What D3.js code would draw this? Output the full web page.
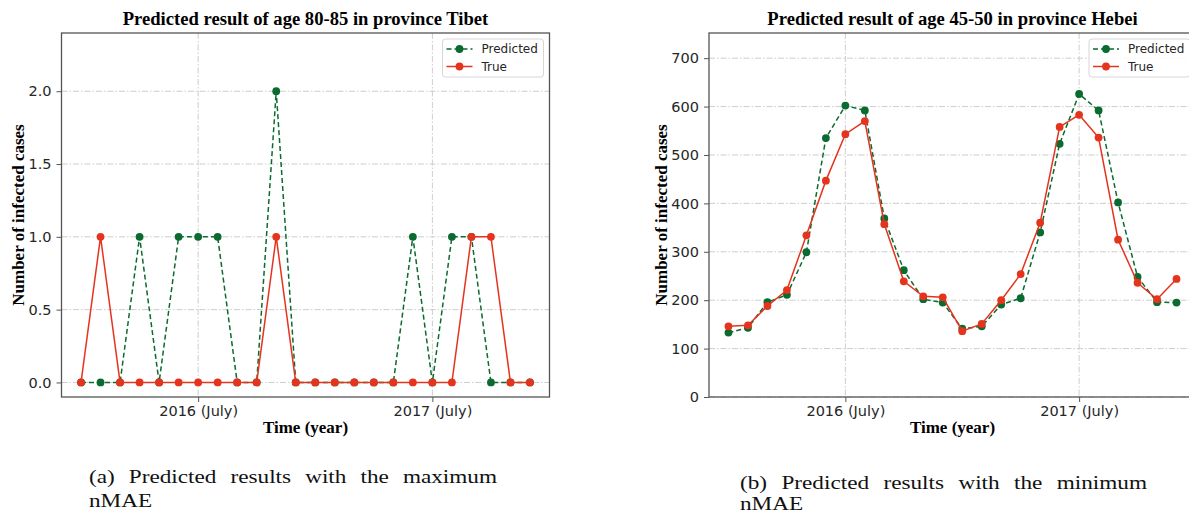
<!DOCTYPE html>
<html>
<head>
<meta charset="utf-8">
<script src="https://cdn.jsdelivr.net/npm/d3@7"></script>
<style>
  body { margin: 0; background: #fff; }
  svg { display: block; }
</style>
</head>
<body>
<svg id="canvas" width="1189" height="513"></svg>
<script>
//two panels of monthly predicted vs true infected cases

var canvas = d3.select('#canvas');

//months shown on the x axis (index based, Jan 2016 .. Dec 2017)
var months = ['2016-01', '2016-02', '2016-03', '2016-04', '2016-05', '2016-06',
  '2016-07', '2016-08', '2016-09', '2016-10', '2016-11', '2016-12',
  '2017-01', '2017-02', '2017-03', '2017-04', '2017-05', '2017-06',
  '2017-07', '2017-08', '2017-09', '2017-10', '2017-11', '2017-12'];
var xTickMonths = ['2016-07', '2017-07'];
var xTickLabels = ['2016 (July)', '2017 (July)'];

//panel (a): Tibet, age 80-85
var tibetPredicted = [0, 0, 0, 1, 0, 1, 1, 1, 0, 0, 2, 0, 0, 0, 0, 0, 0, 1, 0, 1, 1, 0, 0, 0];
var tibetTrue = [0, 1, 0, 0, 0, 0, 0, 0, 0, 0, 1, 0, 0, 0, 0, 0, 0, 0, 0, 0, 1, 1, 0, 0];
var tibetYTicks = [0, 0.5, 1, 1.5, 2];

//panel (b): Hebei, age 45-50
var hebeiPredicted = [133, 143, 196, 211, 299, 535, 602, 592, 369, 262, 202, 195,
  141, 146, 191, 204, 340, 523, 626, 592, 402, 248, 196, 195];
var hebeiTrue = [146, 148, 188, 221, 334, 447, 543, 570, 357, 239, 208, 206,
  136, 151, 200, 254, 360, 558, 583, 536, 325, 236, 202, 244];
var hebeiYTicks = [0, 100, 200, 300, 400, 500, 600, 700];

var seriesNames = ['Predicted', 'True'];

var green = '#0a6a2f';
var red = '#e5341d';
var gridColor = '#cdcdcd';
var tickColor = '#262626';
var serif = '"Liberation Serif", "Times New Roman", serif';

function drawPanel(p) {
  var g = canvas.append('g');

  var xScale = d3.scaleLinear()
    .domain([-1, months.length])
    .range([p.left, p.right]);
  var yScale = d3.scaleLinear()
    .domain(p.yDomain)
    .range([p.bottom, p.top]);

  //clip so that marks stay inside the axes
  var clipId = 'clip-' + p.id;
  g.append('clipPath').attr('id', clipId)
    .append('rect')
    .attr('x', p.left).attr('y', p.top)
    .attr('width', p.right - p.left).attr('height', p.bottom - p.top);

  //grid lines (dash-dot like matplotlib '-.')
  g.selectAll('.hgrid')
    .data(p.yTicks)
    .enter().append('line')
    .attr('x1', p.left).attr('x2', p.right)
    .attr('y1', function(d) { return yScale(d); })
    .attr('y2', function(d) { return yScale(d); })
    .style('stroke', gridColor)
    .style('stroke-width', 1)
    .style('stroke-dasharray', '6,2,1.5,2');

  g.selectAll('.vgrid')
    .data(xTickMonths)
    .enter().append('line')
    .attr('x1', function(d) { return xScale(months.indexOf(d)); })
    .attr('x2', function(d) { return xScale(months.indexOf(d)); })
    .attr('y1', p.top).attr('y2', p.bottom)
    .style('stroke', gridColor)
    .style('stroke-width', 1)
    .style('stroke-dasharray', '6,2,1.5,2');

  //axes
  var xAxis = d3.axisBottom(xScale)
    .tickValues(xTickMonths.map(function(d) { return months.indexOf(d); }))
    .tickFormat(function(d, i) { return xTickLabels[i]; })
    .tickSize(5)
    .tickPadding(4)
    .tickSizeOuter(0);
  var xg = g.append('g')
    .attr('transform', 'translate(0,' + p.bottom + ')')
    .call(xAxis);
  xg.select('.domain').remove();

  var yAxis = d3.axisLeft(yScale)
    .tickValues(p.yTicks)
    .tickFormat(d3.format(p.yFormat))
    .tickSize(5)
    .tickPadding(5)
    .tickSizeOuter(0);
  var yg = g.append('g')
    .attr('transform', 'translate(' + p.left + ',0)')
    .call(yAxis);
  yg.select('.domain').remove();

  [xg, yg].forEach(function(a) {
    a.selectAll('text')
      .style('font-family', '"DejaVu Sans", sans-serif')
      .style('font-size', '14.5px')
      .style('fill', tickColor);
    a.selectAll('line').style('stroke', '#555').style('stroke-width', 1);
  });
  xg.selectAll('text').attr('dy', '0.72em');

  //axes frame
  g.append('rect')
    .attr('x', p.left).attr('y', p.top)
    .attr('width', p.right - p.left).attr('height', p.bottom - p.top)
    .style('fill', 'none')
    .style('stroke', '#555')
    .style('stroke-width', 1.3);

  //the two series, predicted first so true sits on top
  var series = [
    { name: seriesNames[0], values: p.predicted, color: green, dash: '5,3' },
    { name: seriesNames[1], values: p.truth, color: red, dash: null }
  ];

  var line = d3.line()
    .x(function(d, i) { return xScale(i); })
    .y(function(d) { return yScale(d); });

  var plot = g.append('g').attr('clip-path', 'url(#' + clipId + ')');

  series.forEach(function(s) {
    plot.append('path')
      .datum(s.values)
      .attr('d', line)
      .style('fill', 'none')
      .style('stroke', s.color)
      .style('stroke-width', 1.5)
      .style('stroke-dasharray', s.dash);

    plot.selectAll('.dot-' + s.name)
      .data(s.values)
      .enter().append('circle')
      .attr('cx', function(d, i) { return xScale(i); })
      .attr('cy', function(d) { return yScale(d); })
      .attr('r', 3.9)
      .style('fill', s.color);
  });

  //title
  g.append('text')
    .attr('x', (p.left + p.right) / 2)
    .attr('y', 25)
    .attr('text-anchor', 'middle')
    .style('font-family', serif)
    .style('font-weight', 'bold')
    .style('font-size', '18.6px')
    .text(p.title);

  //axis labels
  g.append('text')
    .attr('x', (p.left + p.right) / 2)
    .attr('y', 433)
    .attr('text-anchor', 'middle')
    .style('font-family', serif)
    .style('font-weight', 'bold')
    .style('font-size', '17px')
    .text('Time (year)');

  g.append('text')
    .attr('transform', 'translate(' + p.yLabelX + ',' + (p.top + p.bottom) / 2 + ') rotate(-90)')
    .attr('text-anchor', 'middle')
    .style('font-family', serif)
    .style('font-weight', 'bold')
    .style('font-size', '17px')
    .text('Number of infected cases');

  //legend in the upper right
  var lg = g.append('g')
    .attr('transform', 'translate(' + (p.right - 107) + ',' + (p.top + 6) + ')');
  lg.append('rect')
    .attr('x', 0).attr('y', 0)
    .attr('width', 101).attr('height', 38)
    .attr('rx', 3)
    .style('fill', '#fff')
    .style('fill-opacity', 0.85)
    .style('stroke', '#d6d6d6')
    .style('stroke-width', 1);

  series.forEach(function(s, i) {
    var ly = 10 + i * 17.5;
    lg.append('line')
      .attr('x1', 4).attr('x2', 30)
      .attr('y1', ly).attr('y2', ly)
      .style('stroke', s.color)
      .style('stroke-width', 1.5)
      .style('stroke-dasharray', s.dash);
    lg.append('circle')
      .attr('cx', 17).attr('cy', ly).attr('r', 3.9)
      .style('fill', s.color);
    lg.append('text')
      .attr('x', 39).attr('y', ly)
      .attr('dy', '0.35em')
      .style('font-family', '"DejaVu Sans", sans-serif')
      .style('font-size', '12px')
      .style('fill', tickColor)
      .text(s.name);
  });
}

drawPanel({
  id: 'a',
  left: 61.5, right: 549.5, top: 33, bottom: 397,
  yDomain: [-0.1, 2.4], yTicks: tibetYTicks, yFormat: '.1f',
  predicted: tibetPredicted, truth: tibetTrue,
  title: 'Predicted result of age 80-85 in province Tibet',
  yLabelX: 24
});

drawPanel({
  id: 'b',
  left: 709, right: 1196, top: 33, bottom: 397,
  yDomain: [0, 752], yTicks: hebeiYTicks, yFormat: 'd',
  predicted: hebeiPredicted, truth: hebeiTrue,
  title: 'Predicted result of age 45-50 in province Hebei',
  yLabelX: 667
});

//sub-figure captions, first line justified (wide word gaps like LaTeX)
//computer modern is wider than Times, so each word is stretched a bit
var captions = [
  { x: 89, y: 483, width: 408, lineGap: 24, lines: ['(a) Predicted results with the maximum', 'nMAE'] },
  { x: 740, y: 488.5, width: 407, lineGap: 21.5, lines: ['(b) Predicted results with the minimum', 'nMAE'] }
];
var stretch = 1.19;

captions.forEach(function(c) {
  c.lines.forEach(function(t, li) {
    var words = t.split(' ');
    var y = c.y + li * c.lineGap;
    var nodes = words.map(function(w) {
      return canvas.append('text')
        .attr('y', y)
        .style('font-family', serif)
        .style('font-size', '19.5px')
        .style('fill', '#111')
        .text(w);
    });
    var widths = nodes.map(function(n) { return n.node().getComputedTextLength() * stretch; });
    var gap = 0;
    if (li === 0 && words.length > 1) {
      gap = (c.width - d3.sum(widths)) / (words.length - 1);
    }
    var x = c.x;
    nodes.forEach(function(n, i) {
      n.attr('x', x)
        .attr('textLength', widths[i])
        .attr('lengthAdjust', 'spacingAndGlyphs');
      x += widths[i] + gap;
    });
  });
});
</script>
</body>
</html>
